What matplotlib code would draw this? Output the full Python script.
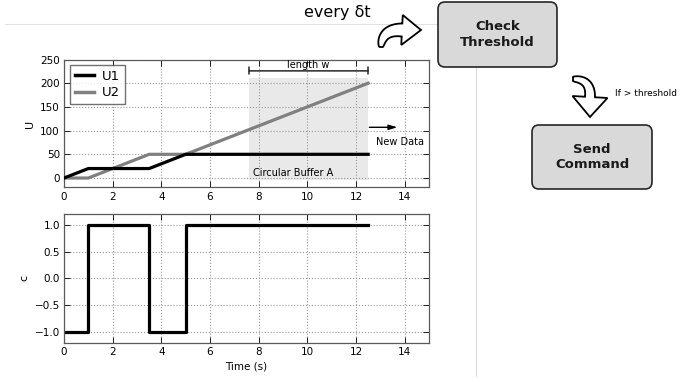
import matplotlib
matplotlib.use("Agg")
import matplotlib.pyplot as plt
from matplotlib.patches import FancyBboxPatch, Rectangle, Polygon
import numpy as np

# Signal samples
t_u = [0, 1, 3.5, 5, 12.5]
u1 = [0, 20, 20, 50, 50]
u2 = [0, 0, 50, 50, 200]

t_c = [0, 1, 1, 3.5, 3.5, 5, 5, 12.5]
c_vals = [-1, -1, 1, 1, -1, -1, 1, 1]

# Buffer window
buf_start, buf_end = 7.6, 12.5
buf_low, buf_high = -5, 211

x_ticks = [0, 2, 4, 6, 8, 10, 12, 14]
u_ticks = [0, 50, 100, 150, 200, 250]
c_ticks = [-1.0, -0.5, 0.0, 0.5, 1.0]

W, H = 680, 379
fig = plt.figure(figsize=(W / 100, H / 100), dpi=100)

def px_axes(x0, y0, x1, y1):
    return fig.add_axes([x0 / W, 1 - y1 / H, (x1 - x0) / W, (y1 - y0) / H])

tick_fs = 7.5

def style(ax):
    ax.grid(True, linestyle=':', color='0.6', linewidth=0.8)
    ax.tick_params(direction='in', top=True, right=True, labelsize=tick_fs,
                   length=4, width=0.6, pad=3)
    for s in ax.spines.values():
        s.set_color('0.35')
        s.set_linewidth(0.9)
    ax.set_axisbelow(True)

# Top: input signals
ax1 = px_axes(64, 59.5, 429, 187.5)
ax1.add_patch(Rectangle((buf_start, buf_low), buf_end - buf_start, buf_high - buf_low,
                        facecolor='#e9e9e9', edgecolor='none', zorder=0.5))
ax1.plot(t_u, u1, color='black', lw=2.3, label='U1', zorder=3)
ax1.plot(t_u, u2, color='#808080', lw=2.3, label='U2', zorder=2)
ax1.set_xlim(0, 15)
ax1.set_ylim(-20, 250)
ax1.set_xticks(x_ticks)
ax1.set_yticks(u_ticks)
ax1.set_ylabel('U', fontsize=8, labelpad=4)
style(ax1)
leg = ax1.legend(loc='upper left', fontsize=9.5, frameon=True, fancybox=False,
                 handlelength=1.5, borderpad=0.35, labelspacing=0.25,
                 borderaxespad=0.45, handletextpad=0.6)
leg.get_frame().set_edgecolor('0.3')
leg.get_frame().set_linewidth(1.0)
for line in leg.get_lines():
    line.set_linewidth(2.5)

ax1.annotate('', xy=(buf_start, 226), xytext=(buf_end, 226),
             arrowprops=dict(arrowstyle='|-|,widthA=0.25,widthB=0.25',
                             color='0.15', lw=1.1, shrinkA=0, shrinkB=0))
ax1.text((buf_start + buf_end) / 2, 228, 'length w', ha='center', va='bottom',
         fontsize=7)
ax1.annotate('', xy=(13.7, 107), xytext=(12.55, 107),
             arrowprops=dict(arrowstyle='-|>,head_length=0.5,head_width=0.15',
                             color='black', lw=1.0, shrinkA=0, shrinkB=0))
ax1.text(13.8, 76, 'New Data', ha='center', va='center', fontsize=7)
ax1.text(7.75, 10, 'Circular Buffer A', ha='left', va='center', fontsize=7)

# Bottom: command signal
ax2 = px_axes(64, 214, 429, 342.7)
ax2.plot(t_c, c_vals, color='black', lw=2.3)
ax2.set_xlim(0, 15)
ax2.set_ylim(-1.2, 1.2)
ax2.set_xticks(x_ticks)
ax2.set_yticks(c_ticks)
ax2.set_ylabel('c', fontsize=8, labelpad=4)
ax2.set_xlabel('Time (s)', fontsize=7.5, labelpad=3)
style(ax2)

# Flow diagram overlay in pixel coordinates
ov = fig.add_axes([0, 0, 1, 1])
ov.set_xlim(0, W)
ov.set_ylim(H, 0)
ov.axis('off')
ov.patch.set_alpha(0)

# Faint guide lines
ov.plot([5, 476], [24, 24], color='0.88', lw=0.8, zorder=1)
ov.plot([476, 476], [24, 376], color='0.85', lw=0.8, zorder=1)

def box(x0, y0, x1, y1, text):
    ov.add_patch(FancyBboxPatch((x0, y0), x1 - x0, y1 - y0,
                                boxstyle='round,pad=0,rounding_size=7',
                                facecolor='#d9d9d9', edgecolor='0.15', lw=1.2,
                                zorder=2))
    ov.text((x0 + x1) / 2, (y0 + y1) / 2, text, ha='center', va='center',
            fontsize=9.5, fontweight='bold', linespacing=1.25, color='0.1',
            zorder=3)

box(438, 2, 557, 67, 'Check\nThreshold')
box(532, 125, 652, 189, 'Send\nCommand')

ov.text(337, 13, 'every δt', ha='center', va='center', fontsize=11.5)
ov.text(615, 94, 'If > threshold', ha='left', va='center', fontsize=6.5)


def hollow_arrow(p0, p1, p2, tip, tail_w, body_w, head_hw):
    """Curved outline arrow: quadratic centreline p0->p2 (control p1), head to tip."""
    p0, p1, p2, tip = (np.asarray(p, float) for p in (p0, p1, p2, tip))
    s = np.linspace(0, 1, 80)[:, None]
    pts = (1 - s) ** 2 * p0 + 2 * (1 - s) * s * p1 + s ** 2 * p2
    d = 2 * (1 - s) * (p1 - p0) + 2 * s * (p2 - p1)
    n = np.column_stack([-d[:, 1], d[:, 0]])
    n /= np.linalg.norm(n, axis=1, keepdims=True)
    w = tail_w + (body_w - tail_w) * np.sqrt(s[:, 0])
    left = pts + n * w[:, None] / 2
    right = pts - n * w[:, None] / 2
    ne = n[-1]
    hl = p2 + ne * head_hw
    hr = p2 - ne * head_hw
    poly = np.vstack([left, [hl], [tip], [hr], right[::-1]])
    ov.add_patch(Polygon(poly, closed=True, facecolor='white', edgecolor='black',
                         lw=1.3, joinstyle='miter', zorder=4))

hollow_arrow((381, 47), (382, 29), (402, 30), (421, 30), 3, 13, 15)
hollow_arrow((573, 79), (591, 79), (590, 97), (590, 117), 4, 10, 17.5)

fig.savefig('out.png', dpi=100)
